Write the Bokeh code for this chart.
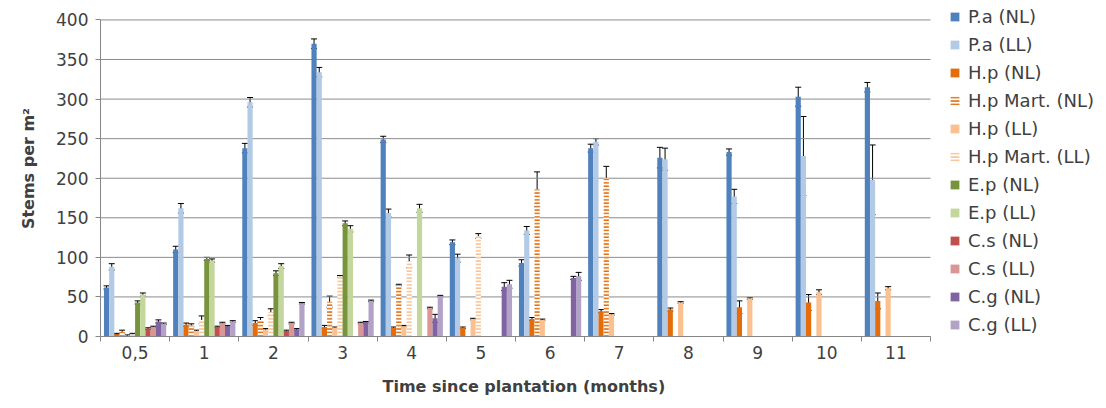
import numpy as np
from bokeh.plotting import figure
from bokeh.models import Range1d, FixedTicker, ColumnDataSource, Whisker, TeeHead, Legend, LegendItem, Title
from bokeh.embed import file_html
from bokeh.resources import INLINE

categories = ["0,5", "1", "2", "3", "4", "5", "6", "7", "8", "9", "10", "11"]
y_ticks = [0, 50, 100, 150, 200, 250, 300, 350, 400]

series_names = ["P.a (NL)", "P.a (LL)", "H.p (NL)", "H.p Mart. (NL)", "H.p (LL)",
                "H.p Mart. (LL)", "E.p (NL)", "E.p (LL)", "C.s (NL)", "C.s (LL)",
                "C.g (NL)", "C.g (LL)"]

pa_nl = [62, 110, 238, 370, 249, 119, 93, 238, 226, 233, 303, 315]
pa_nl_err = [2, 4, 6, 6, 4, 3, 4, 5, 13, 4, 12, 6]
pa_ll = [88, 162, 296, 334, 156, 99, 134, 246, 224, 177, 228, 198]
pa_ll_err = [4, 6, 6, 6, 5, 5, 5, 4, 14, 9, 50, 44]
hp_nl = [3, 15, 17, 12, 11, 11, 22, 32, 34, 37, 43, 45]
hp_nl_err = [1, 2, 3, 2, 1, 1, 2, 2, 2, 8, 10, 10]
hpm_nl = [6, 14, 21, 44, 65, 0, 186, 200, 0, 0, 0, 0]
hpm_nl_err = [2, 2, 3, 7, 1, 0, 22, 15, 0, 0, 0, 0]
hp_ll = [1, 7, 9, 11, 13, 22, 21, 28, 43, 48, 56, 61]
hp_ll_err = [1, 1, 1, 1, 1, 1, 1, 1, 1, 1, 3, 2]
hpm_ll = [3, 21, 31, 76, 95, 127, 0, 0, 0, 0, 0, 0]
hpm_ll_err = [1, 5, 4, 1, 8, 3, 0, 0, 0, 0, 0, 0]
ep_nl = [43, 98, 80, 143, 0, 0, 0, 0, 0, 0, 0, 0]
ep_nl_err = [2, 2, 3, 3, 0, 0, 0, 0, 0, 0, 0, 0]
ep_ll = [53, 96, 89, 136, 162, 0, 0, 0, 0, 0, 0, 0]
ep_ll_err = [2, 2, 3, 4, 5, 0, 0, 0, 0, 0, 0, 0]
cs_nl = [10, 12, 7, 0, 0, 0, 0, 0, 0, 0, 0, 0]
cs_nl_err = [1, 1, 1, 0, 0, 0, 0, 0, 0, 0, 0, 0]
cs_ll = [12, 17, 17, 17, 36, 0, 0, 0, 0, 0, 0, 0]
cs_ll_err = [1, 1, 1, 1, 1, 0, 0, 0, 0, 0, 0, 0]
cg_nl = [19, 13, 9, 18, 23, 63, 74, 0, 0, 0, 0, 0]
cg_nl_err = [2, 1, 1, 1, 5, 5, 2, 0, 0, 0, 0, 0]
cg_ll = [16, 19, 42, 45, 51, 66, 76, 0, 0, 0, 0, 0]
cg_ll_err = [1, 1, 1, 1, 1, 5, 5, 0, 0, 0, 0, 0]

values = [pa_nl, pa_ll, hp_nl, hpm_nl, hp_ll, hpm_ll, ep_nl, ep_ll, cs_nl, cs_ll, cg_nl, cg_ll]
errors = [pa_nl_err, pa_ll_err, hp_nl_err, hpm_nl_err, hp_ll_err, hpm_ll_err,
          ep_nl_err, ep_ll_err, cs_nl_err, cs_ll_err, cg_nl_err, cg_ll_err]

colors = ["#4F81BD", "#B3CAE6", "#E46C0A", "#E46C0A", "#FAC090", "#FAC090",
          "#77933C", "#C3D69B", "#C0504D", "#D99694", "#8064A2", "#B3A2C7"]
hatched = [False, False, False, True, False, True, False, False, False, False, False, False]

FONT = "DejaVu Sans"
TXT = "#404040"
GRID = "#8C8C8C"
AXIS = "#868686"

n_cat = len(categories)
# frame spans the whole area right of the y axis (so the legend is inside it);
# categories occupy 830 px of the 1006 px frame, y=400 sits 317.5 px above y=0
x_end = n_cat * 1006 / 830
y_end = max(y_ticks) * 337 / 317.5

p = figure(width=1106, height=408, x_range=Range1d(0, x_end), y_range=Range1d(0, y_end),
           output_backend="svg", toolbar_location=None,
           min_border_left=100, min_border_right=0, min_border_top=0, min_border_bottom=71)
p.outline_line_color = None
p.xgrid.visible = False
p.ygrid.visible = False

# horizontal grid lines over the category span only
p.segment(x0=[0] * len(y_ticks), x1=[n_cat] * len(y_ticks), y0=y_ticks, y1=y_ticks,
          line_color=GRID, line_width=1)

n_series = len(values)
bar_w = 0.9 / n_series
idx = np.arange(n_cat)

items = []
for j in range(n_series):
    xs = idx + 0.5 + (j - (n_series - 1) / 2) * bar_w
    top = np.array(values[j], dtype=float)
    err = np.array(errors[j], dtype=float)
    src = ColumnDataSource(dict(x=xs, top=top))
    if hatched[j]:
        r = p.vbar(x="x", top="top", width=bar_w, source=src, fill_color="white",
                   line_color=None, hatch_pattern="horizontal_line", hatch_color=colors[j],
                   hatch_scale=3.4, hatch_weight=1.6)
    else:
        r = p.vbar(x="x", top="top", width=bar_w, source=src, fill_color=colors[j],
                   line_color=None)
    items.append(LegendItem(label=series_names[j], renderers=[r]))
    mask = top > 0
    wsrc = ColumnDataSource(dict(x=xs[mask], upper=(top + err)[mask], lower=(top - err)[mask]))
    w = Whisker(source=wsrc, base="x", upper="upper", lower="lower", dimension="height",
                line_color="black", line_width=1,
                upper_head=TeeHead(size=6, line_color="black", line_width=1),
                lower_head=TeeHead(size=6, line_color="black", line_width=1))
    p.add_layout(w)

# x axis: category boundaries as minor ticks, labels in the middle
p.xaxis.bounds = (0, n_cat)
p.xaxis.ticker = FixedTicker(ticks=[float(i) + 0.5 for i in idx], minor_ticks=list(range(n_cat + 1)))
p.xaxis.major_label_overrides = {float(i) + 0.5: c for i, c in zip(idx, categories)}
p.xaxis.major_tick_line_color = None
p.xaxis.major_tick_out = 0
p.xaxis.major_tick_in = 0
p.xaxis.minor_tick_out = 5
p.xaxis.minor_tick_in = 0
p.xaxis.minor_tick_line_color = AXIS
p.xaxis.axis_line_color = AXIS
p.xaxis.major_label_standoff = 4
p.xaxis.major_label_text_font = FONT
p.xaxis.major_label_text_font_size = "17px"
p.xaxis.major_label_text_color = TXT

# x axis title, centred under the category span (not under the wider frame)
xtitle = Title(text="Time since plantation  (months)", align="left", offset=282, standoff=26,
               text_font=FONT, text_font_size="16px", text_font_style="bold", text_color=TXT)
p.add_layout(xtitle, "below")

p.yaxis.bounds = (0, max(y_ticks))
p.yaxis.ticker = FixedTicker(ticks=y_ticks)
p.yaxis.minor_tick_line_color = None
p.yaxis.major_tick_out = 5
p.yaxis.major_tick_in = 0
p.yaxis.major_tick_line_color = AXIS
p.yaxis.axis_line_color = AXIS
p.yaxis.major_label_standoff = 7
p.yaxis.major_label_text_font = FONT
p.yaxis.major_label_text_font_size = "17px"
p.yaxis.major_label_text_color = TXT
p.yaxis.axis_label = "Stems per m²"
p.yaxis.axis_label_text_font = FONT
p.yaxis.axis_label_text_font_style = "bold"
p.yaxis.axis_label_text_font_size = "16px"
p.yaxis.axis_label_text_color = TXT
p.yaxis.axis_label_standoff = 15

legend = Legend(items=items, location=(849, 1), orientation="vertical",
                glyph_width=11, glyph_height=11, label_standoff=8,
                label_height=21, spacing=7, padding=0, margin=0,
                border_line_color=None, background_fill_alpha=0,
                label_text_font=FONT, label_text_font_size="18px",
                label_text_color=TXT)
p.add_layout(legend)

open("out.html", "w").write(file_html(p, INLINE))
